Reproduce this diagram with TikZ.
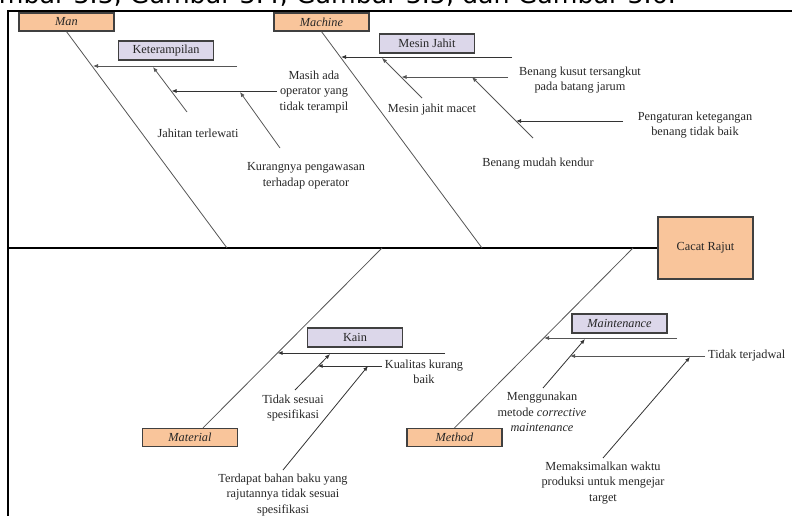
\documentclass[tikz,border=0pt]{standalone}
\usepackage{fontspec}
\setmainfont{Liberation Serif}
\newfontfamily\headfont{DejaVu Sans}
\usetikzlibrary{arrows.meta}
\definecolor{headorange}{HTML}{F9C59B}
\definecolor{sublilac}{HTML}{DCD7EA}
\definecolor{boxline}{HTML}{404040}
\definecolor{boneline}{HTML}{555555}

\begin{document}
\begin{tikzpicture}[x=1pt,y=-1pt,
    every node/.style={font=\fontsize{12.3}{15.5}\selectfont, text=black!85},
    head/.style={rectangle, draw=boxline, fill=headorange, line width=1.2pt, minimum width=95pt, minimum height=18pt, inner sep=0pt, font=\fontsize{12.3}{15.5}\selectfont\itshape},
    effect/.style={rectangle, draw=boxline, fill=headorange, line width=1.2pt, minimum width=95pt, minimum height=62pt, inner sep=0pt},
    sub/.style={rectangle, draw=boxline, fill=sublilac, line width=1.2pt, minimum width=95pt, minimum height=19pt, inner sep=0pt},
    lbl/.style={align=center, inner sep=1pt},
    spine/.style={draw=black, line width=1.1pt},
    bone/.style={draw=boneline, line width=0.8pt},
    cause/.style={-{Latex[length=5pt,width=4pt]}, line width=0.8pt, draw=black!80},
    gcause/.style={cause, draw=boneline}
]
\useasboundingbox (0,0) rectangle (792,516);
\clip (0,0) rectangle (792,516);

% Heading line cut by the page
\node[anchor=base east, font=\headfont\fontsize{25.3}{30}\selectfont, text=black, inner sep=0pt] (caption) at (676,4) {Gambar 3.3, Gambar 3.4, Gambar 3.5, dan Gambar 3.6.};

% Frame
\draw[line width=1.6pt] (8,516) -- (8,11) -- (792,11);

% Head and categories
\node[effect] (cacat) at (705.5,248) {Cacat Rajut};
\node[head] (man)      at (66.5,22)   {Man};
\node[head] (machine)  at (321.5,22)  {Machine};
\node[head] (material) at (190,437.5) {Material};
\node[head] (method)   at (454.5,437.5) {Method};

% Spine and bones
\coordinate (spine0)   at (8,248);
\coordinate (manfoot)  at (227,248);
\coordinate (machfoot) at (482,248);
\coordinate (matfoot)  at (382,248);
\coordinate (methfoot) at (633,248);
\draw[spine] (spine0) -- (cacat.west);
\draw[bone] (man.south) -- (manfoot);
\draw[bone] (machine.south) -- (machfoot);
\draw[bone] ([xshift=13pt]material.north) -- (matfoot);
\draw[bone] (method.north) -- (methfoot);

% Man
\node[sub] (skill) at (166,50.5) {Keterampilan};
\coordinate (skillend) at (237,66);
\coordinate (skilltip) at (93,66);
\draw[gcause] (skillend) -- (skilltip);
\node[lbl] (jahitan) at (198,133) {Jahitan terlewati};
\coordinate (jahitan0) at (187,112);
\coordinate (jahitan1) at (153,67);
\draw[gcause] (jahitan0) -- (jahitan1);
\node[lbl] (masih) at (314,92) {Masih ada\\operator yang\\tidak terampil};
\coordinate (masih0) at (277,91);
\coordinate (masih1) at (171.5,91);
\draw[cause] (masih0) -- (masih1);
\node[lbl] (awas) at (306,176) {Kurangnya pengawasan\\terhadap operator};
\coordinate (awas0) at (280,148);
\coordinate (awas1) at (240,92);
\draw[gcause] (awas0) -- (awas1);

% Machine
\node[sub] (mesin) at (427,43.5) {Mesin Jahit};
\coordinate (mesinend) at (512,57);
\coordinate (mesintip) at (341,57);
\draw[cause] (mesinend) -- (mesintip);
\node[lbl] (macet) at (432,110) {Mesin jahit macet};
\coordinate (macet0) at (422,98);
\coordinate (macet1) at (382,58);
\draw[gcause] (macet0) -- (macet1);
\node[lbl] (kusut) at (580,80) {Benang kusut tersangkut\\pada batang jarum};
\coordinate (kusut0) at (508,77);
\coordinate (kusut1) at (401.5,77);
\draw[gcause] (kusut0) -- (kusut1);
\node[lbl] (kendur) at (538,164) {Benang mudah kendur};
\coordinate (kendur0) at (533,138);
\coordinate (kendur1) at (472,77);
\draw[gcause] (kendur0) -- (kendur1);
\node[lbl] (atur) at (695,125) {Pengaturan ketegangan\\benang tidak baik};
\coordinate (atur0) at (623,121);
\coordinate (atur1) at (516,121);
\draw[cause] (atur0) -- (atur1);

% Material
\node[sub] (kain) at (355,337.5) {Kain};
\coordinate (kainend) at (445,353);
\coordinate (kaintip) at (277.6,353);
\draw[cause] (kainend) -- (kaintip);
\node[lbl] (spek) at (293,408) {Tidak sesuai\\spesifikasi};
\coordinate (spek0) at (295,390);
\coordinate (spek1) at (330,354);
\draw[cause] (spek0) -- (spek1);
\node[lbl] (kualitas) at (424,372) {Kualitas kurang\\baik};
\coordinate (kualitas0) at (382,366);
\coordinate (kualitas1) at (317.7,366);
\draw[cause] (kualitas0) -- (kualitas1);
\node[lbl] (bahan) at (283,495) {Terdapat bahan baku yang\\rajutannya tidak sesuai\\spesifikasi};
\coordinate (bahan0) at (283,470);
\coordinate (bahan1) at (368,366);
\draw[cause] (bahan0) -- (bahan1);

% Method
\node[sub, font=\fontsize{12.3}{15.5}\selectfont\itshape] (maint) at (619.5,323.5) {Maintenance};
\coordinate (maintend) at (677,338);
\coordinate (mainttip) at (544,338);
\draw[gcause] (maintend) -- (mainttip);
\node[lbl] (korektif) at (542,412) {Menggunakan\\metode \textit{corrective}\\\textit{maintenance}};
\coordinate (korektif0) at (543,388);
\coordinate (korektif1) at (585,339);
\draw[cause] (korektif0) -- (korektif1);
\node[lbl, anchor=west] (jadwal) at (707,356) {Tidak terjadwal};
\coordinate (jadwal0) at (705,356);
\coordinate (jadwal1) at (570,356);
\draw[gcause] (jadwal0) -- (jadwal1);
\node[lbl] (waktu) at (603,483) {Memaksimalkan waktu\\produksi untuk mengejar\\target};
\coordinate (waktu0) at (603,458);
\coordinate (waktu1) at (690,357);
\draw[cause] (waktu0) -- (waktu1);
\end{tikzpicture}
\end{document}
